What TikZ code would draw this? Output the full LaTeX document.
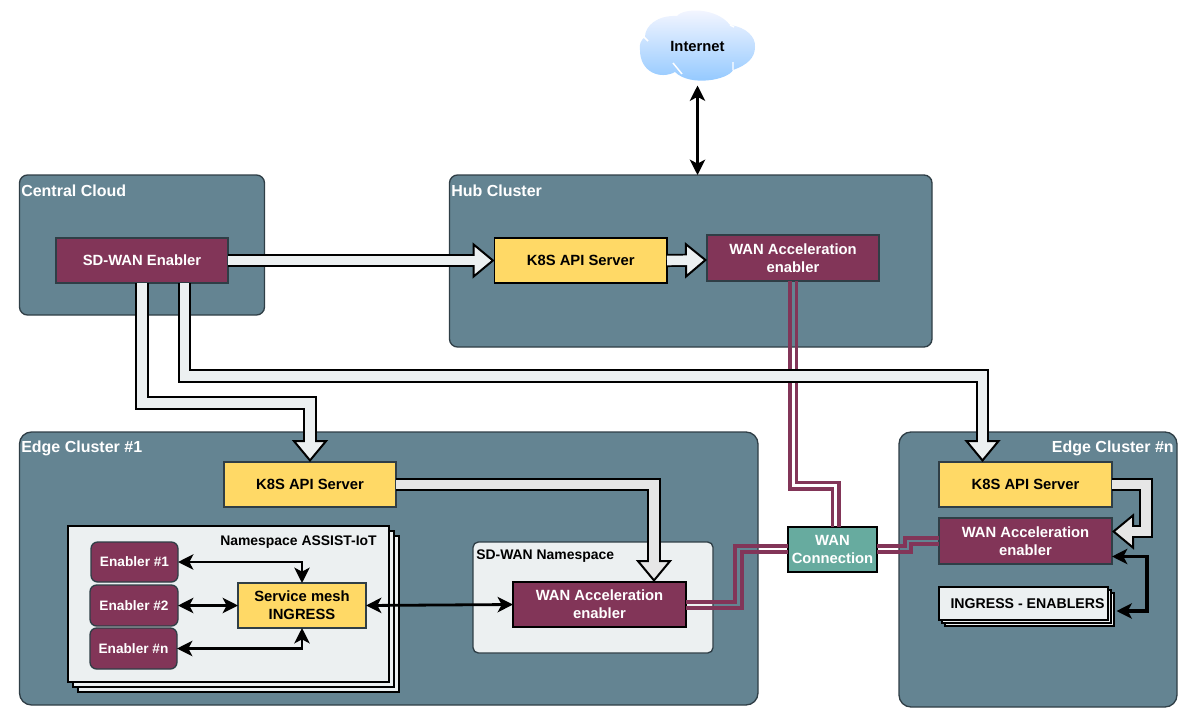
\documentclass[tikz,border=0pt]{standalone}
\usepackage{fontspec}
\setmainfont{Liberation Sans}
\usetikzlibrary{arrows.meta,shadows}
\definecolor{ClusterBg}{HTML}{648492}
\definecolor{ClusterLine}{HTML}{2F3E46}
\definecolor{Enabler}{HTML}{823558}
\definecolor{Server}{HTML}{FFD966}
\definecolor{Conn}{HTML}{67AB9F}
\definecolor{Light}{HTML}{ECF0F1}
\definecolor{Grey}{HTML}{E6E6E6}

\begin{document}
\begin{tikzpicture}[
    x=0.75pt, y=-0.75pt,
    >={Stealth[length=11.5pt,width=11.5pt,inset=3pt]},
    size/.style 2 args = {minimum width=#1*0.75pt, minimum height=#2*0.75pt, inner sep=0pt, outer sep=0pt},
    font=\fontsize{11.1}{13.5}\selectfont\bfseries,
    box/.style     = {draw=ClusterLine, line width=1pt, align=center},
    cluster/.style = {box, fill=ClusterBg, rounded corners=#1},
    enabler/.style = {box, fill=Enabler, text=white},
    server/.style  = {box, fill=Server},
    title/.style   = {text=white, inner sep=0pt, font=\fontsize{12}{14}\selectfont\bfseries},
    small/.style   = {font=\fontsize{10.25}{12}\selectfont\bfseries},
    flow/.style    = {draw=black, line width=9.8pt, line join=miter,
                      -{Triangle[length=16.5pt,width=27pt,line width=1.5pt,fill=#1]},
                      postaction={draw=#1, line width=7.2pt, -, shorten >=8pt}},
    flow/.default  = Light,
    link/.style    = {black, line width=2.1pt, <->},
    wan/.style     = {Enabler, line width=2.3pt},
  ]
\useasboundingbox (0,0) rectangle (1192,721);

% cloud
\def\CloudPath{
     (640,50) .. controls (639,44) and (641,40) .. (645,37)
     .. controls (645,26) and (657,15) .. (677,16)
     .. controls (683,8) and (716,7) .. (730,25)
     .. controls (746,27) and (756,37) .. (755,47)
     .. controls (755,58) and (747,65) .. (733,70)
     .. controls (728,80) and (690,87) .. (675,72)
     .. controls (660,80) and (640,72) .. (640,50) -- cycle
    }
\shade [top color=white!90!blue!30, bottom color=blue!50!cyan!45!white] \CloudPath;
\draw [white, line width=1.1pt] (644,37) -- (648,41) (673,63) -- (682,74) (733,62) -- (733,70) (730,25) -- (734,27);
\node (internet) at (697.5,46) [size={115}{71}] {Internet};

% clusters
\node (central) at (142,245) [cluster=6pt, size={245}{140}] {};
\node (hub) at (690.75,261) [cluster=6pt, size={482.5}{172}] {};
\node (edgeA) at (388.75,568.5) [cluster=9pt, size={738.5}{273}] {};
\node (edgeN) at (1038,569.5) [cluster=9pt, size={278}{275}] {};

\node (centralT) at (21,191) [title, anchor=west] {Central Cloud};
\node (hubT) at (451,191) [title, anchor=west] {Hub Cluster};
\node (edgeAT) at (21,448) [title, anchor=west] {Edge Cluster \#1};
\node (edgeNT) at (1174,448) [title, anchor=east] {Edge Cluster \#n};

% namespaces
\node (nsS) at (593,597.5) [box, rounded corners=4pt, fill=Light, size={240}{111}] {};
\node (nsST) at (476,556) [anchor=west, inner sep=0pt, font=\fontsize{10.45}{12}\selectfont\bfseries] {SD-WAN Namespace};
\node (nsI) at (228.5,604) [draw=black, line width=1.5pt, fill=Light, size={321}{156},
    double copy shadow={shadow xshift=3.75pt, shadow yshift=-3.75pt}] {};
\node (nsIT) at (220,542) [anchor=west, inner sep=0pt, font=\fontsize{10.45}{12}\selectfont\bfseries] {Namespace ASSIST-IoT};

% boxes
\node (sdwan) at (142,260.5) [enabler, size={172}{45}] {SD-WAN Enabler};
\node (k8sH) at (580.75,260.5) [server, draw=black, size={172.5}{45}] {K8S API Server};
\node (wanH) at (793,258) [enabler, size={172}{46}] {WAN Acceleration\\enabler};
\node (k8sA) at (310,484.5) [server, size={172}{45}] {K8S API Server};
\node (wanA) at (599.5,604.5) [enabler, draw=black, size={173}{45}] {WAN Acceleration\\enabler};
\node (mesh) at (302,605.5) [server, size={128}{45}] {Service mesh\\INGRESS};
\node (en1) at (134.5,562) [enabler, small, rounded corners=5pt, size={87}{40}] {Enabler \#1};
\node (en2) at (134,605.5) [enabler, small, rounded corners=5pt, size={88}{41}] {Enabler \#2};
\node (en3) at (133.5,648.5) [enabler, small, rounded corners=5pt, size={87}{41}] {Enabler \#n};
\node (wanC) at (832.5,549.5) [box, draw=black, fill=Conn, text=white, size={89}{45}] {WAN\\Connection};
\node (k8sN) at (1025.5,484.5) [server, size={173}{45}] {K8S API Server};
\node (wanN) at (1025.5,541) [enabler, size={173}{46}] {WAN Acceleration\\enabler};
\node (ingress) at (1023.5,603.5) [draw=black, line width=1.5pt, fill=Light, size={169}{33},
    font=\fontsize{10.6}{12}\selectfont\bfseries,
    double copy shadow={shadow xshift=2.25pt, shadow yshift=-2.25pt}] {\hspace*{6pt}INGRESS - ENABLERS};

% WAN links
\draw [wan] ([shift={(-3,0)}]wanH.south) |- ([shift={(0,-38)}]wanC.north) -- (wanC.north);
\draw [wan] ([shift={(3.5,0)}]wanH.south) |- ([shift={(6.5,-44.5)}]wanC.north) -- ([shift={(6.5,0)}]wanC.north);
\draw [wan] ([shift={(0,-3.5)}]wanC.west) -- ++(-53,0) |- ([shift={(0,-2.5)}]wanA.east);
\draw [wan] ([shift={(0,2.5)}]wanC.west) -- ++(-46,0) |- ([shift={(0,3.5)}]wanA.east);
\draw [wan] ([shift={(0,-3.5)}]wanC.east) -- ++(28,0) |- ([shift={(0,-3)}]wanN.west);
\draw [wan] ([shift={(0,2.5)}]wanC.east) -- ++(34,0) |- ([shift={(0,3)}]wanN.west);

% block arrows
\draw [flow] (sdwan.east) -- (k8sH.west);
\draw [flow] (k8sH.east) -- ([shift={(0,2)}]wanH.west);
\draw [flow] (sdwan.south) -- ++(0,120) -| (k8sA.north);
\draw [flow] ([shift={(42.5,0)}]sdwan.south) -- ++(0,93) -| ([shift={(-43,0)}]k8sN.north);
\draw [flow=Grey] (k8sA.east) -| ([shift={(54.5,0)}]wanA.north);
\draw [flow=Grey] (k8sN.east) -- ++(34,0) |- ([shift={(0,-9.5)}]wanN.east);

% thin arrows
\draw [link, line width=2.4pt, shorten <=3pt] (internet.south) -- (internet.south |- hub.north);
\draw [link] (mesh.east) -- (wanA.west);
\draw [link] (en1.east) -| (mesh.north);
\draw [link] (en2.east) -- (mesh.west);
\draw [link] (en3.east) -| (mesh.south);
\draw [link, line width=2.4pt] ([shift={(0,15.5)}]wanN.east) -- ++(35,0) |- ([shift={(8.5,7.5)}]ingress.east);

\end{tikzpicture}
\end{document}
